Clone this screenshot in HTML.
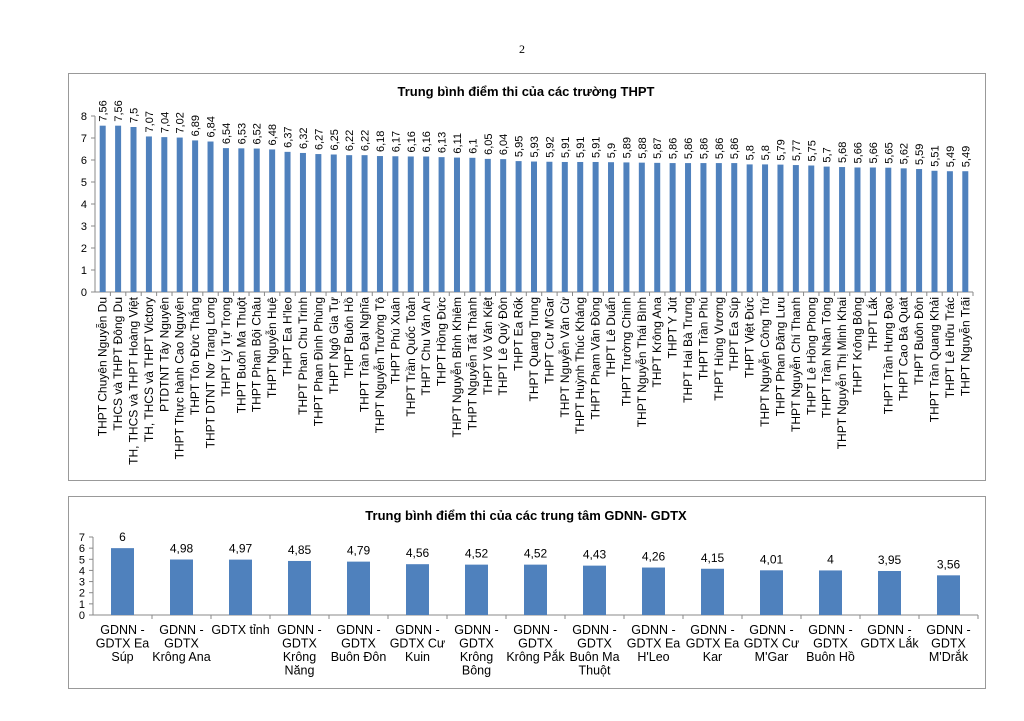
<!DOCTYPE html>
<html><head><meta charset="utf-8"><style>
body{margin:0;background:#fff;}
svg{display:block;font-family:"Liberation Sans",Arial,sans-serif;}
</style></head><body>
<svg width="1024" height="721" xmlns="http://www.w3.org/2000/svg">
<text x="522" y="53" font-size="12" text-anchor="middle" font-family="Liberation Serif,serif">2</text>
<rect x="68.5" y="73.5" width="917" height="407" fill="#fff" stroke="#999" stroke-width="1"/>
<rect x="68.5" y="496.5" width="917" height="192" fill="#fff" stroke="#999" stroke-width="1"/>
<text x="526" y="96" font-size="13" font-weight="bold" text-anchor="middle">Trung bình điểm thi của các trường THPT</text>
<text x="526" y="520" font-size="13" font-weight="bold" text-anchor="middle">Trung bình điểm thi của các trung tâm GDNN- GDTX</text>
<g id="c1"></g>
<g id="c2"></g>
</svg>
<script>
var NS="http://www.w3.org/2000/svg";
function el(p,t,a,txt){var e=document.createElementNS(NS,t);for(var k in a)e.setAttribute(k,a[k]);if(txt!==undefined)e.textContent=txt;p.appendChild(e);return e;}
var v1=[7.56,7.56,7.5,7.07,7.04,7.02,6.89,6.84,6.54,6.53,6.52,6.48,6.37,6.32,6.27,6.25,6.22,6.22,6.18,6.17,6.16,6.16,6.13,6.11,6.1,6.05,6.04,5.95,5.93,5.92,5.91,5.91,5.91,5.9,5.89,5.88,5.87,5.86,5.86,5.86,5.86,5.86,5.8,5.8,5.79,5.77,5.75,5.7,5.68,5.66,5.66,5.65,5.62,5.59,5.51,5.49,5.49];
var n1=["THPT Chuyên Nguyễn Du","THCS và THPT Đông Du","TH, THCS và THPT Hoàng Việt","TH, THCS và THPT Victory","PTDTNT Tây Nguyên","THPT Thực hành Cao Nguyên","THPT Tôn Đức Thắng","THPT DTNT Nơ Trang Lơng","THPT Lý Tự Trọng","THPT Buôn Ma Thuột","THPT Phan Bội Châu","THPT Nguyễn Huệ","THPT Ea H'leo","THPT Phan Chu Trinh","THPT Phan Đình Phùng","THPT Ngô Gia Tự","THPT Buôn Hồ","THPT Trần Đại Nghĩa","THPT Nguyễn Trường Tộ","THPT Phú Xuân","THPT Trần Quốc Toản","THPT Chu Văn An","THPT Hồng Đức","THPT Nguyễn Bỉnh Khiêm","THPT Nguyễn Tất Thành","THPT Võ Văn Kiệt","THPT Lê Quý Đôn","THPT Ea Rốk","THPT Quang Trung","THPT Cư M'Gar","THPT Nguyễn Văn Cừ","THPT Huỳnh Thúc Kháng","THPT Phạm Văn Đồng","THPT Lê Duẩn","THPT Trường Chinh","THPT Nguyễn Thái Bình","THPT Krông Ana","THPT Y Jút","THPT Hai Bà Trưng","THPT Trần Phú","THPT Hùng Vương","THPT Ea Súp","THPT Việt Đức","THPT Nguyễn Công Trứ","THPT Phan Đăng Lưu","THPT Nguyễn Chí Thanh","THPT Lê Hồng Phong","THPT Trần Nhân Tông","THPT Nguyễn Thị Minh Khai","THPT Krông Bông","THPT Lắk","THPT Trần Hưng Đạo","THPT Cao Bá Quát","THPT Buôn Đôn","THPT Trần Quang Khải","THPT Lê Hữu Trác","THPT Nguyễn Trãi"];
var g=document.getElementById("c1");
var x0=95,x1=973,y0=292,yt=116,n=57,cw=(x1-x0)/n,sc=(y0-yt)/8;
el(g,"line",{x1:x0,y1:yt,x2:x0,y2:y0,stroke:"#888"});
el(g,"line",{x1:x0,y1:y0,x2:x1,y2:y0,stroke:"#888"});
for(var i=0;i<=8;i++){var y=y0-i*sc;el(g,"line",{x1:x0-4,y1:y,x2:x0,y2:y,stroke:"#888"});el(g,"text",{x:x0-8,y:y+4,"font-size":11,"text-anchor":"end"},i);}
for(var i=0;i<n;i++){var cx=x0+cw*(i+0.5),h=v1[i]*sc;
el(g,"rect",{x:cx-3,y:y0-h,width:6,height:h,fill:"#4f81bd"});
el(g,"line",{x1:x0+cw*(i+1),y1:y0,x2:x0+cw*(i+1),y2:y0+4,stroke:"#888"});
var ty=y0-h-4;el(g,"text",{transform:"translate("+(cx+4)+","+ty+") rotate(-90)","font-size":11},String(v1[i]).replace(".",","));
el(g,"text",{transform:"translate("+(cx+4)+",297) rotate(-90)","font-size":12,"text-anchor":"end"},n1[i]);}
var v2=[6,4.98,4.97,4.85,4.79,4.56,4.52,4.52,4.43,4.26,4.15,4.01,4,3.95,3.56];
var n2=[["GDNN -","GDTX Ea","Súp"],["GDNN -","GDTX","Krông Ana"],["GDTX tỉnh"],["GDNN -","GDTX","Krông","Năng"],["GDNN -","GDTX","Buôn Đôn"],["GDNN -","GDTX Cư","Kuin"],["GDNN -","GDTX","Krông","Bông"],["GDNN -","GDTX","Krông Pắk"],["GDNN -","GDTX","Buôn Ma","Thuột"],["GDNN -","GDTX Ea","H'Leo"],["GDNN -","GDTX Ea","Kar"],["GDNN -","GDTX Cư","M'Gar"],["GDNN -","GDTX","Buôn Hồ"],["GDNN -","GDTX Lắk"],["GDNN -","GDTX","M'Drắk"]];
g=document.getElementById("c2");
x0=93;x1=978;y0=615;yt=537;n=15;cw=(x1-x0)/n;sc=(y0-yt)/7;
el(g,"line",{x1:x0,y1:yt,x2:x0,y2:y0,stroke:"#888"});
el(g,"line",{x1:x0,y1:y0,x2:x1,y2:y0,stroke:"#888"});
for(var i=0;i<=7;i++){var y=y0-i*sc;el(g,"line",{x1:x0-4,y1:y,x2:x0,y2:y,stroke:"#888"});el(g,"text",{x:x0-8,y:y+4,"font-size":11,"text-anchor":"end"},i);}
for(var i=0;i<n;i++){var cx=x0+cw*(i+0.5),h=v2[i]*sc;
el(g,"rect",{x:cx-11.5,y:y0-h,width:23,height:h,fill:"#4f81bd"});
el(g,"line",{x1:x0+cw*(i+1),y1:y0,x2:x0+cw*(i+1),y2:y0+4,stroke:"#888"});
el(g,"text",{x:cx,y:y0-h-7,"font-size":12,"text-anchor":"middle"},String(v2[i]).replace(".",","));
for(var j=0;j<n2[i].length;j++)el(g,"text",{x:cx,y:634+j*13.5,"font-size":12.5,"text-anchor":"middle"},n2[i][j]);}
</script>
</body></html>
